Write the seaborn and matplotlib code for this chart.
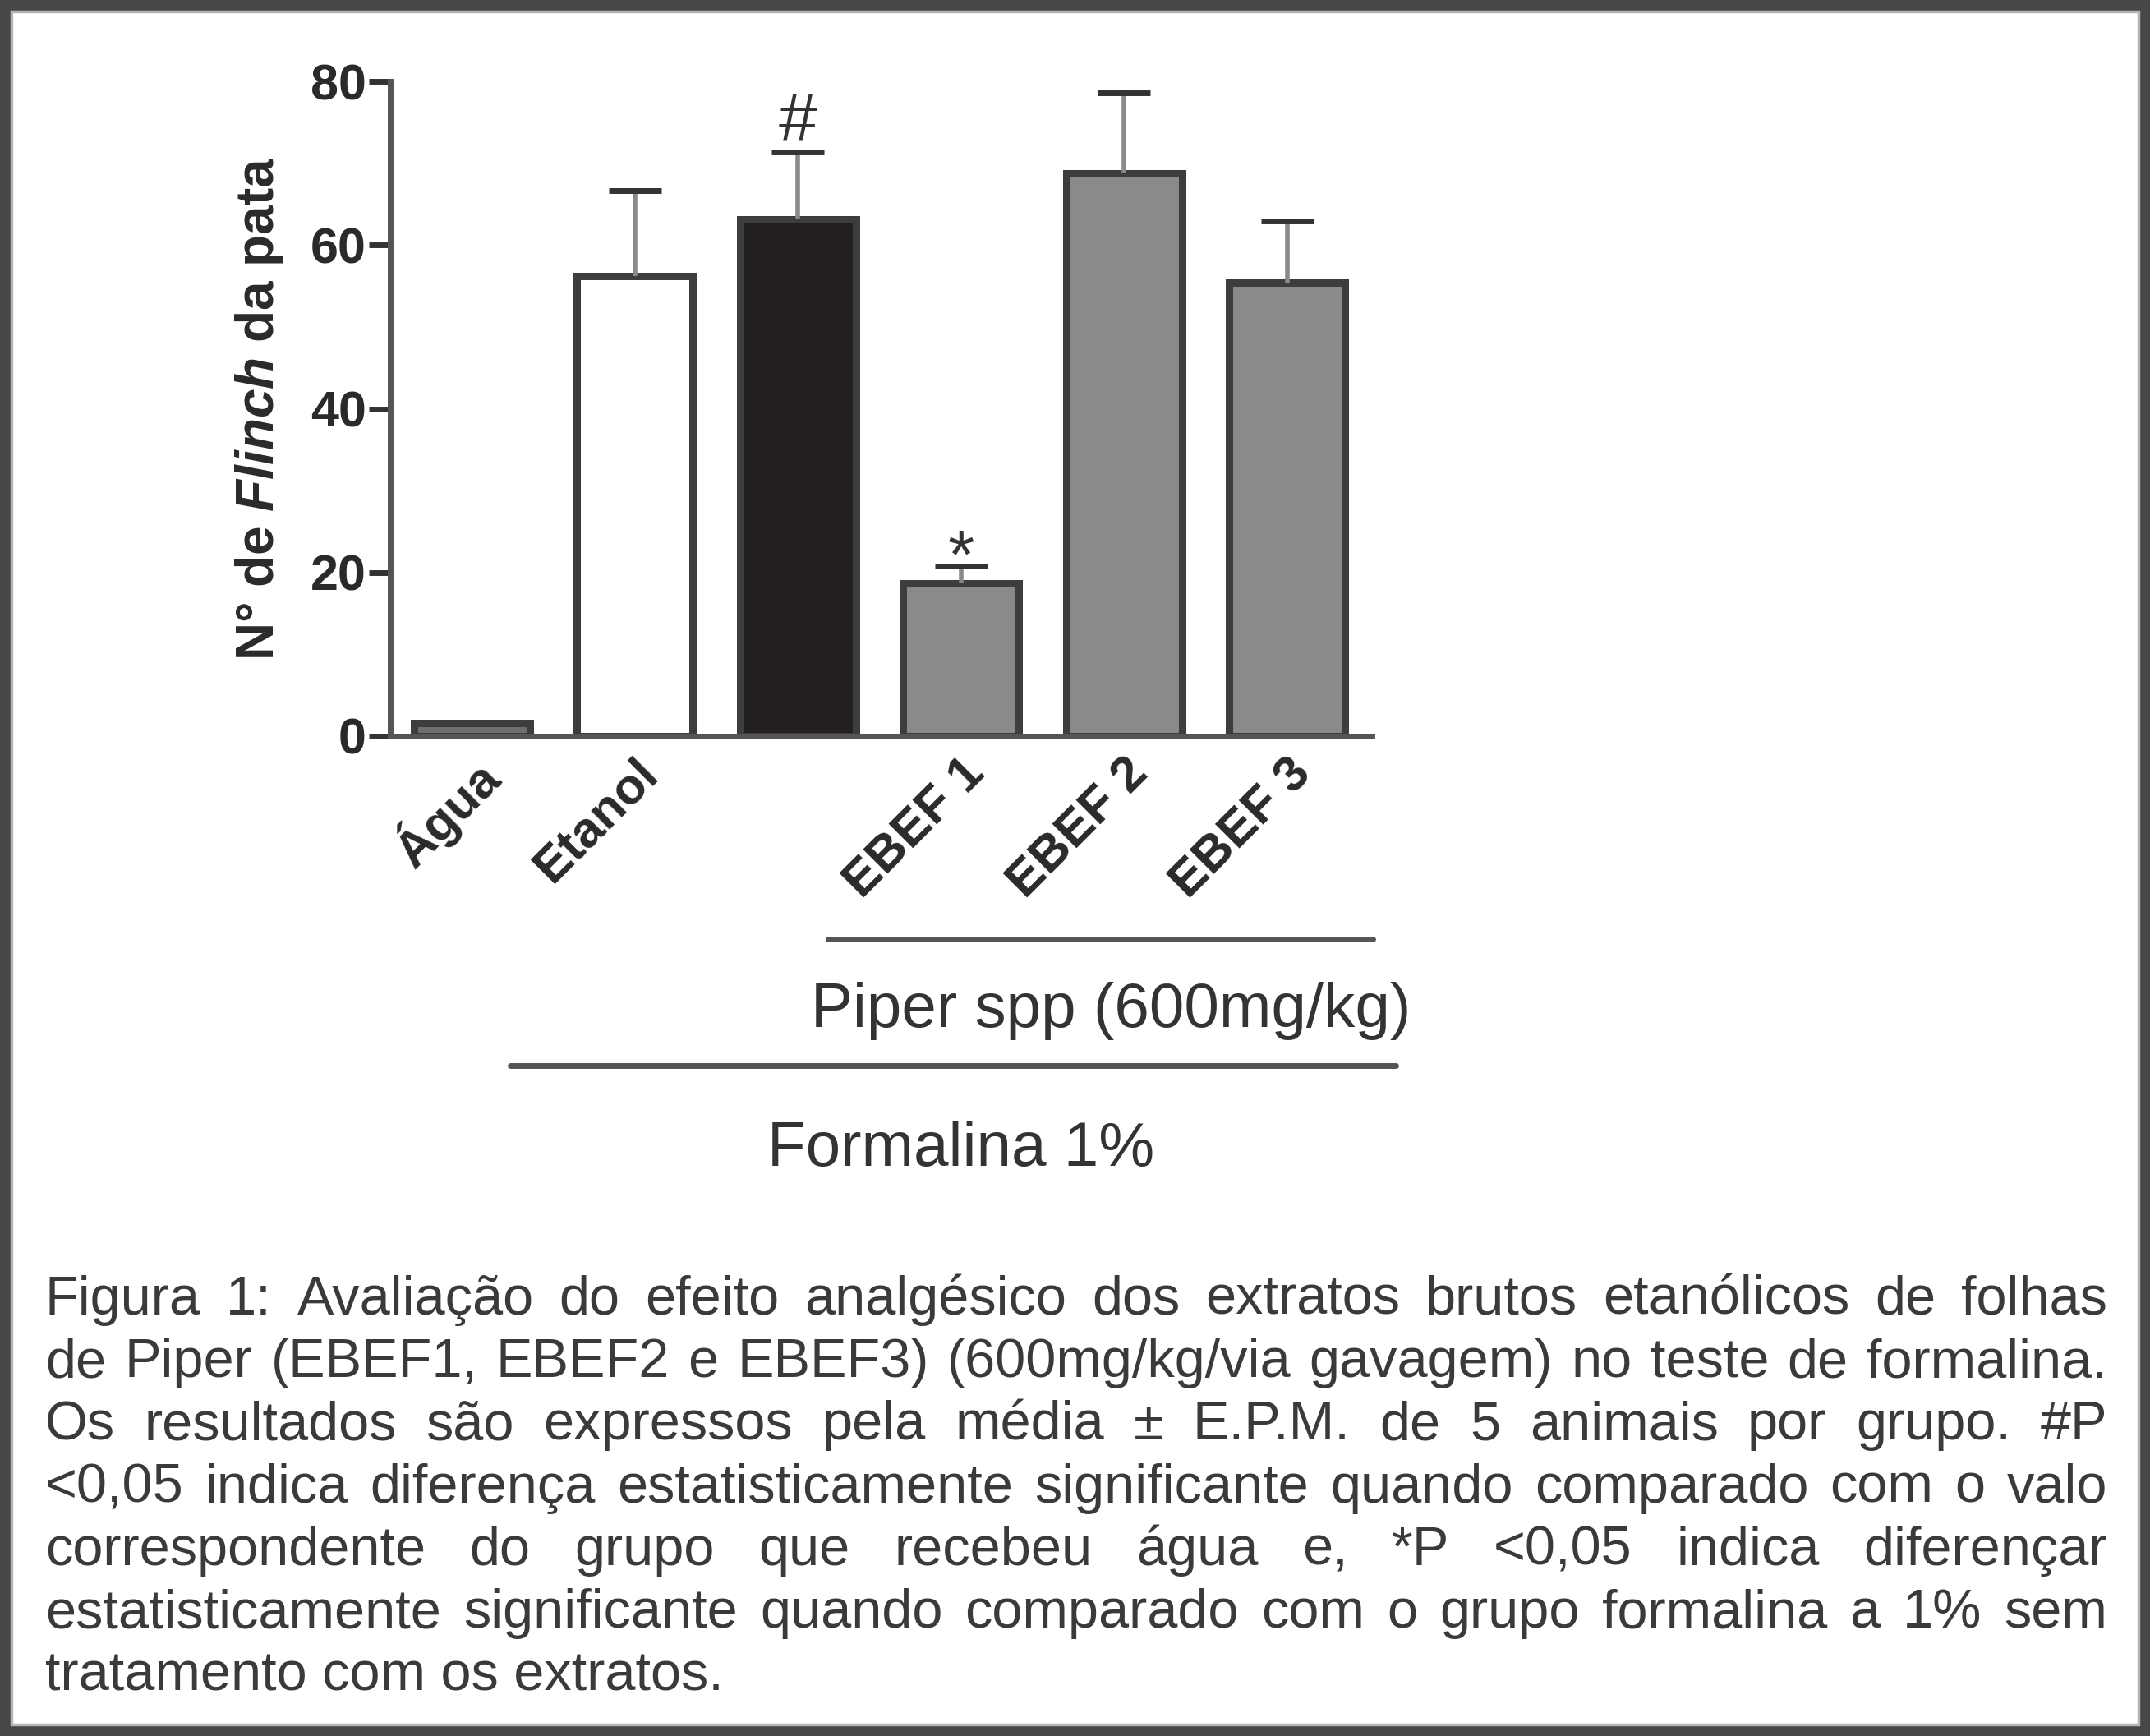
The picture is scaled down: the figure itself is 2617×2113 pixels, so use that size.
import matplotlib
matplotlib.use("Agg")
import matplotlib.pyplot as plt
from matplotlib.patches import Rectangle
from matplotlib.lines import Line2D
import numpy as np
import pandas as pd
import seaborn as sns

# data
groups = ["Água", "Etanol", "Formalina", "EBEF 1", "EBEF 2", "EBEF 3"]
tick_labels = ["Água", "Etanol", "", "EBEF 1", "EBEF 2", "EBEF 3"]
means = [1.6, 56.2, 63.1, 18.7, 68.8, 55.4]
sem = [0.0, 10.5, 8.3, 2.1, 9.8, 7.5]
marks = ["", "", "#", "*", "", ""]
fills = ["#6e6e6e", "#ffffff", "#231f20", "#898a8c", "#898a8c", "#898a8c"]
yticks = [0, 20, 40, 60, 80]

caption = [
    "Figura 1: Avaliação do efeito analgésico dos extratos brutos etanólicos de folhas",
    "de Piper (EBEF1, EBEF2 e EBEF3) (600mg/kg/via gavagem) no teste de formalina.",
    "Os resultados são expressos pela média ± E.P.M. de 5 animais por grupo. #P",
    "<0,05 indica diferença estatisticamente significante quando comparado com o valo",
    "correspondente do grupo que recebeu água e, *P <0,05 indica diferençar",
    "estatisticamente significante quando comparado com o grupo formalina a 1% sem",
    "tratamento com os extratos.",
]

sns.set_theme(style="white")
plt.rcParams["font.family"] = ["Liberation Sans", "DejaVu Sans"]
plt.rcParams["mathtext.fontset"] = "custom"
plt.rcParams["mathtext.it"] = "Liberation Sans:italic:bold"
plt.rcParams["mathtext.rm"] = "Liberation Sans:bold"

W, H = 2617, 2113
fig = plt.figure(figsize=(W / 100, H / 100), dpi=100)
fig.patch.set_facecolor("white")
ax = fig.add_axes([0.1815, 0.5760, 0.4566, 0.3771])

df = pd.DataFrame({"grupo": groups, "flinch": means})
sns.barplot(data=df, x="grupo", y="flinch", hue="grupo",
            palette=dict(zip(groups, fills)), saturation=1,
            width=0.71, edgecolor="#3d3d3d", linewidth=6.5,
            errorbar=None, legend=False, ax=ax)

xs = [c[0].get_x() + c[0].get_width() / 2 for c in ax.containers]

# upper error bars only
idx = [i for i in range(len(groups)) if sem[i] > 0]
tops = [means[i] for i in idx]
eb = ax.errorbar([xs[i] for i in idx], tops,
                 yerr=[[0] * len(idx), [sem[i] for i in idx]],
                 fmt="none", ecolor="#8a8a8a", elinewidth=4,
                 capsize=23, capthick=5, zorder=1)
for cl in eb.lines[1]:
    if np.allclose(cl.get_ydata(), tops):
        cl.set_visible(False)  # no cap at the bar top
    cl.set_markeredgecolor("#333333")

offs = {"#": 8.6, "*": -11}
for i, m in enumerate(marks):
    if m:
        ax.annotate(m, xy=(xs[i], means[i] + sem[i]), xytext=(0, offs[m]),
                    textcoords="offset points", ha="center", va="baseline",
                    fontsize=60, color="#333333")

ax.set_ylim(0, 80)
ax.set_xlim(-0.5, 5.52)
ax.set_yticks(yticks)
ax.set_yticklabels([str(v) for v in yticks], fontsize=44, fontweight="bold",
                   color="#2a2a2a")
ax.set_xticks(range(len(groups)))
ax.set_xticklabels(tick_labels, rotation=45, ha="right",
                   rotation_mode="anchor", fontsize=44, fontweight="bold",
                   color="#2a2a2a")
ax.tick_params(axis="y", length=19, width=5, color="#333333", pad=2, left=True)
ax.tick_params(axis="x", length=0, pad=12)
ax.set_xlabel("")
ax.set_ylabel(r"N° de $\mathit{Flinch}$ da pata", fontsize=46,
              fontweight="bold", color="#2a2a2a")
ax.yaxis.set_label_coords(-0.106, 0.5)
sns.despine(ax=ax)
for s in ["left", "bottom"]:
    ax.spines[s].set_linewidth(5)
    ax.spines[s].set_color("#555555")

# group brackets under the axis
fig.add_artist(Line2D([0.3852, 0.6385], [0.4591, 0.4591], lw=5,
                      color="#555555", transform=fig.transFigure))
fig.text(0.5166, 0.4084, "Piper spp (600mg/kg)", ha="center", va="baseline",
         fontsize=55, color="#333333")
fig.add_artist(Line2D([0.2373, 0.6492], [0.3862, 0.3862], lw=5,
                      color="#555555", transform=fig.transFigure))
fig.text(0.4471, 0.3284, "Formalina 1%", ha="center", va="baseline",
         fontsize=55, color="#333333")

# justified caption
renderer = fig.canvas.get_renderer()
x0, x1 = 55 / W, 2565 / W
for k, line in enumerate(caption):
    y = 1 - (1600 + k * 76.2) / H
    if k == len(caption) - 1:
        fig.text(x0, y, line, fontsize=48, color="#3a3a3a", va="baseline")
        continue
    words = line.split()
    texts = [fig.text(0, y, w, fontsize=48, color="#3a3a3a", va="baseline")
             for w in words]
    widths = [t.get_window_extent(renderer).width / W for t in texts]
    gap = max((x1 - x0 - sum(widths)) / (len(words) - 1), 0.004)
    cx = x0
    for t, wd in zip(texts, widths):
        t.set_x(cx)
        cx += wd + gap

# picture frame
fig.add_artist(Rectangle((0, 0), 1, 1, transform=fig.transFigure, fill=False,
                         lw=18.7, edgecolor="#474747"))
fig.add_artist(Rectangle((14 / W, 14 / H), 1 - 28 / W, 1 - 28 / H,
                         transform=fig.transFigure, fill=False, lw=2.5,
                         edgecolor="#b5b5b5"))

fig.savefig("out.png", dpi=100)
